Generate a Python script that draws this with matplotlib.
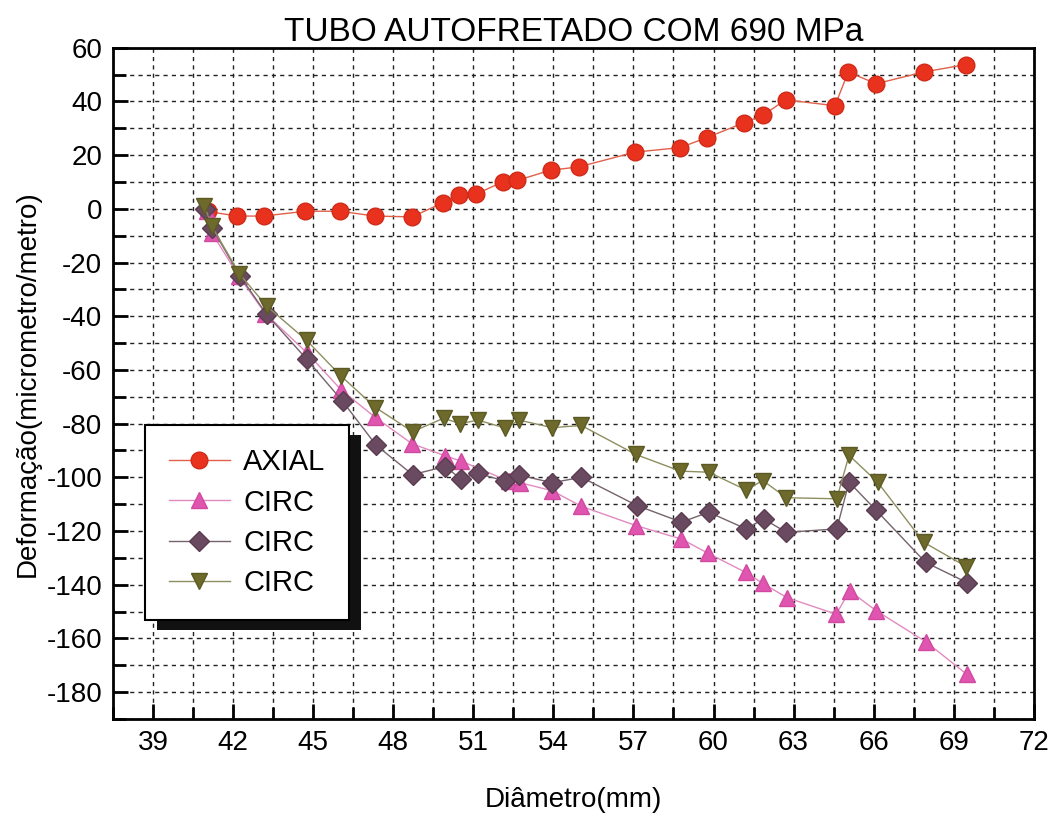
import matplotlib
matplotlib.use("Agg")
import matplotlib.pyplot as plt
from matplotlib.patches import Rectangle
from matplotlib.ticker import MultipleLocator

plt.rcParams['font.family'] = ['Liberation Sans', 'DejaVu Sans']
plt.rcParams['axes.unicode_minus'] = False

# data
axial_x = [41.05, 42.15, 43.15, 44.7, 46.0, 47.3, 48.7, 49.85, 50.45, 51.1, 52.1, 52.65,
           53.9, 54.95, 57.05, 58.75, 59.75, 61.15, 61.85, 62.7, 64.55, 65.05, 66.1, 67.9, 69.45]
axial_y = [-1.0, -2.7, -2.7, -0.9, -0.9, -2.7, -3.0, 2.2, 5.0, 5.5, 10.0, 10.6,
           14.4, 15.6, 21.1, 22.8, 26.5, 32.1, 34.8, 40.6, 38.4, 50.9, 46.6, 51.0, 53.7]

circ1_x = [41.0, 41.2, 42.2, 43.2, 44.75, 46.05, 47.3, 48.7, 49.95, 50.55, 52.35, 52.75,
           53.95, 55.05, 57.1, 58.8, 59.8, 61.2, 61.85, 62.75, 64.6, 65.1, 66.1, 67.95, 69.5]
circ1_y = [-1.0, -9.0, -25.0, -39.0, -53.5, -67.5, -77.5, -87.5, -92.0, -94.0, -101.5, -102.0,
           -105.0, -110.8, -118.0, -123.0, -128.3, -135.4, -139.5, -144.8, -151.0, -142.3, -149.7, -161.2, -173.4]

circ2_x = [40.95, 41.2, 42.25, 43.25, 44.75, 46.1, 47.35, 48.72, 49.94, 50.52, 51.18, 52.2, 52.72,
           53.95, 55.05, 57.13, 58.8, 59.82, 61.22, 61.88, 62.73, 64.62, 65.08, 66.08, 67.95, 69.5]
circ2_y = [0.0, -7.0, -25.0, -39.3, -56.0, -71.7, -88.0, -99.0, -96.0, -100.5, -98.5, -101.5, -99.2,
           -102.0, -100.0, -110.5, -116.7, -113.0, -119.2, -115.5, -120.5, -119.2, -101.8, -112.1, -131.7, -139.2]

circ3_x = [40.92, 41.2, 42.23, 43.25, 44.75, 46.03, 47.33, 48.72, 49.88, 50.5, 51.18, 52.2, 52.72,
           53.95, 55.05, 57.09, 58.76, 59.82, 61.22, 61.85, 62.73, 64.62, 65.08, 66.15, 67.88, 69.48]
circ3_y = [1.0, -6.5, -24.2, -36.2, -49.0, -62.2, -74.0, -83.0, -78.0, -80.0, -78.7, -81.7, -78.7,
           -81.5, -80.7, -91.5, -97.7, -98.1, -104.7, -101.2, -107.6, -108.0, -91.8, -101.8, -124.2, -133.3]

fig = plt.figure(figsize=(10.58, 8.17), dpi=100)
ax = fig.add_axes([0.107, 0.120, 0.870, 0.8216])

ax.plot(axial_x, axial_y, '-o', color='#e0604a', lw=1, ms=12,
        mfc='#e8321e', mec='#d02a18', label='AXIAL', zorder=3)
ax.plot(circ1_x, circ1_y, '-^', color='#e28ac0', lw=1, ms=12,
        mfc='#e055b0', mec='#d04aa0', label='CIRC', zorder=3)
ax.plot(circ2_x, circ2_y, '-D', color='#75626c', lw=1, ms=10,
        mfc='#6a4a60', mec='#5a3c50', label='CIRC', zorder=3)
ax.plot(circ3_x, circ3_y, '-v', color='#8e8e60', lw=1, ms=12,
        mfc='#6e6a2c', mec='#5c5a24', label='CIRC', zorder=3)

ax.set_xlim(37.5, 72)
ax.set_ylim(-190, 60)
ax.xaxis.set_major_locator(MultipleLocator(3))
ax.xaxis.set_minor_locator(MultipleLocator(1.5))
ax.yaxis.set_major_locator(MultipleLocator(20))
ax.yaxis.set_minor_locator(MultipleLocator(10))

ax.grid(True, which='both', color='#222222', linestyle=(0, (3, 3)), lw=1)
ax.set_axisbelow(True)
ax.tick_params(which='both', direction='in', width=2, labelsize=20, pad=8)
ax.tick_params(which='major', length=11)
ax.tick_params(which='minor', length=9)
for s in ax.spines.values():
    s.set_linewidth(2)

ax.set_title('TUBO AUTOFRETADO COM 690 MPa', fontsize=24, pad=5)
ax.set_xlabel('Diâmetro(mm)', fontsize=20, labelpad=22)
ax.set_ylabel('Deformação(micrometro/metro)', fontsize=20, labelpad=4)

leg = ax.legend(loc='upper left', bbox_to_anchor=(0.035, 0.438), borderaxespad=0,
                fontsize=21, frameon=True, fancybox=False, edgecolor='black', framealpha=1,
                borderpad=0.8, handlelength=2.1, handletextpad=0.45, labelspacing=0.42)
leg.get_frame().set_linewidth(1.5)
leg.set_zorder(6)

# thick black drop shadow behind the legend box
fig.canvas.draw()
bb = leg.get_window_extent()
shadow = Rectangle((bb.x0 + 12, bb.y0 - 10), bb.width, bb.height,
                   transform=None, facecolor='#111111', edgecolor='none', zorder=5)
ax.add_artist(shadow)

fig.savefig('out.png', dpi=100)
